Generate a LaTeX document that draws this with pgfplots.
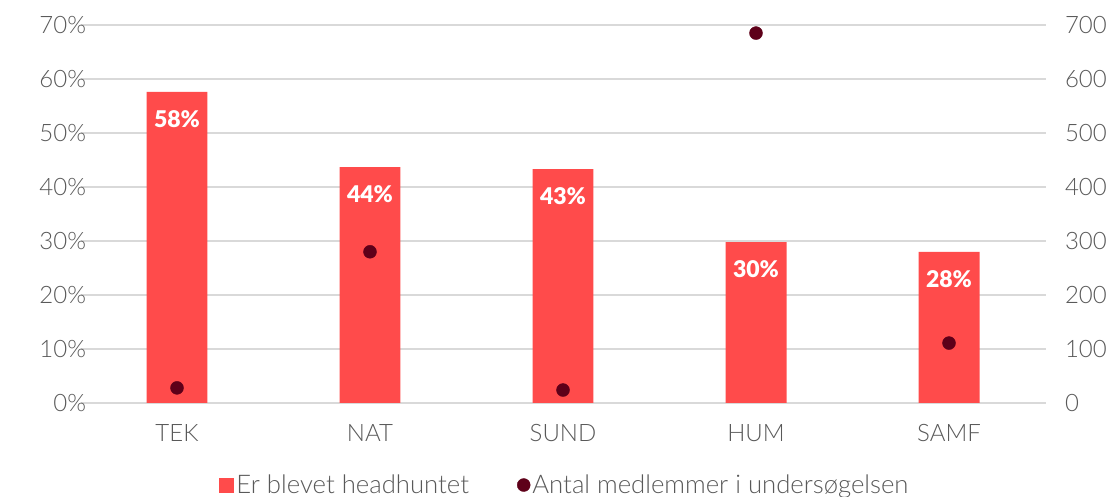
\documentclass[border=0pt]{standalone}
\usepackage{fontspec}
\setmainfont{Lato}[UprightFont={* Light},BoldFont={* Black}]
\usepackage{pgfplots}
\pgfplotsset{compat=1.18}
\definecolor{barred}{HTML}{FF4B4B}
\definecolor{dotred}{HTML}{5E0019}
\definecolor{gridgray}{HTML}{D9D9D9}
\definecolor{txtgray}{HTML}{595959}
\begin{document}
\begin{tikzpicture}
\path[use as bounding box] (0pt,0pt) rectangle (1116pt,497pt);
\pgfplotsset{common/.style={scale only axis, width=965pt, height=378pt,
  at={(80.5pt,94pt)}, anchor=south west, xmin=-0.5, xmax=4.5,
  axis line style={draw=none}, major tick length=0pt,
  tick label style={font=\fontsize{24}{28}\selectfont, text=txtgray},
  /pgf/number format/assume math mode=true}}
\begin{axis}[common, ymin=0, ymax=70, ytick={0,10,...,70},
  yticklabel={\pgfmathprintnumber{\tick}\%},
  yticklabel style={xshift=9pt},
  xticklabel style={yshift=-18pt},
  ymajorgrids, grid style={gridgray, line width=1.3pt},
  xtick={0,...,4}, xticklabels={TEK,NAT,SUND,HUM,SAMF},
  ybar, bar width=0.316,
  nodes near coords={\pgfmathprintnumber[fixed,precision=0]{\pgfplotspointmeta}\%},
  every node near coord/.style={anchor=center, yshift=-27pt, font=\bfseries\fontsize{23}{27}\selectfont, text=white},
  legend columns=2,
  legend style={at={(0.502,-0.217)}, anchor=center, draw=none, fill=none,
    font=\fontsize{25.7}{29}\selectfont, text=txtgray,
    /tikz/every even column/.append style={column sep=46pt}},
  legend cell align=left]
\addplot[fill=barred, draw=none, legend image code/.code={\fill[barred] (0pt,-7.5pt) rectangle (15pt,7.5pt);}]
  coordinates {(0,57.6) (1,43.7) (2,43.3) (3,29.8) (4,28.0)};
\addlegendentry{Er blevet headhuntet}
\addlegendimage{only marks, mark=*, mark size=6pt, dotred, legend image code/.code={\fill[dotred] (7pt,0pt) circle (6.5pt);}}
\addlegendentry{Antal medlemmer i undersøgelsen}
\end{axis}
\begin{axis}[common, axis y line*=right, axis x line=none, ymin=0, ymax=700,
  ytick={0,100,...,700}, yticklabel style={xshift=16pt}]
\addplot[only marks, mark=*, mark size=6.5pt, dotred]
  coordinates {(0,28) (1,280) (2,24) (3,685) (4,111)};
\end{axis}
\end{tikzpicture}
\end{document}
